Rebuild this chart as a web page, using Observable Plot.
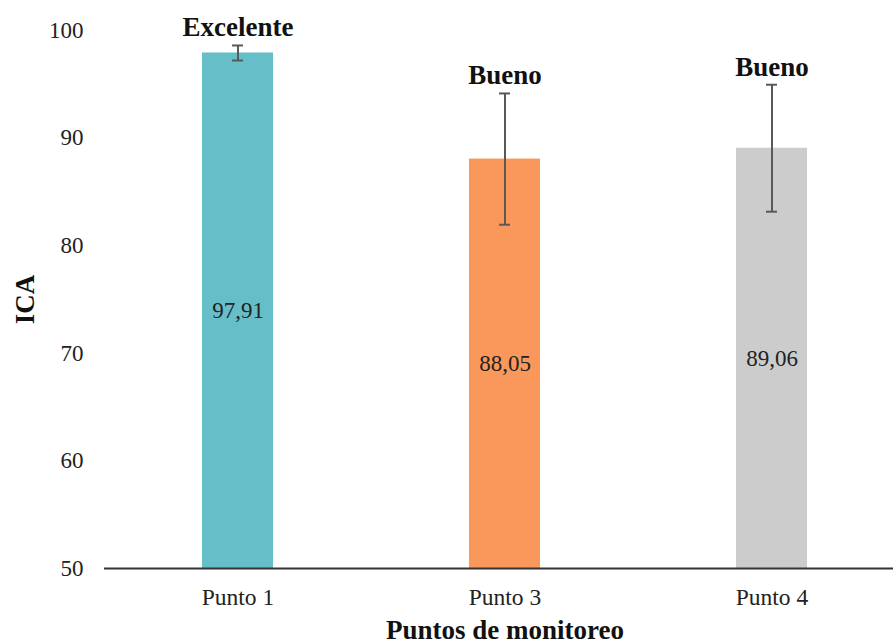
<!DOCTYPE html>
<html>
<head>
<meta charset="utf-8">
<script src="https://cdn.jsdelivr.net/npm/d3@7"></script>
<script src="https://cdn.jsdelivr.net/npm/@observablehq/plot@0.6"></script>
<style>
  html, body { margin: 0; padding: 0; background: #fff; overflow: hidden; }
  #chart svg { display: block; }
  #chart svg text { font-family: "Liberation Serif", "Times New Roman", serif !important; }
  #chart [aria-label="x-axis label"] text, #chart [aria-label="y-axis label"] text { font-weight: bold; fill: #111; font-size: 27px; }
</style>
</head>
<body>
<div id="chart"></div>
<script>
// Data
const categories = ["Punto 1", "Punto 3", "Punto 4"];
const values = [97.91, 88.05, 89.06];
const errors = [0.7, 6.1, 5.9];
const quality = ["Excelente", "Bueno", "Bueno"];
const valueLabels = ["97,91", "88,05", "89,06"];
const colors = ["#66BEC9", "#F9985A", "#CDCCCD"];
const yTicks = [50, 60, 70, 80, 90, 100];
const yDomain = [50, 100];

const rows = categories.map((c, i) => ({
  cat: c, value: values[i], err: errors[i], quality: quality[i], label: valueLabels[i]
}));

const font = "Liberation Serif, Times New Roman, serif";

const chart = Plot.plot({
  width: 893,
  height: 644,
  marginLeft: 104,
  marginRight: -12,
  marginTop: 30,
  marginBottom: 76,
  style: { fontFamily: font, fontSize: "23px", color: "#222", background: "#fff", overflow: "visible" },
  x: { domain: categories, paddingInner: 0.734, paddingOuter: 0.367 },
  y: { domain: yDomain },
  color: { domain: categories, range: colors },
  marks: [
    Plot.barY(rows, { x: "cat", y1: yDomain[0], y2: "value", fill: "cat" }),
    Plot.ruleX(rows, { x: "cat", y1: d => d.value - d.err, y2: d => d.value + d.err, stroke: "#595959", strokeWidth: 2 }),
    Plot.tickY(rows, { x: "cat", y: d => d.value + d.err, stroke: "#595959", strokeWidth: 2, insetLeft: 30, insetRight: 30 }),
    Plot.tickY(rows, { x: "cat", y: d => d.value - d.err, stroke: "#595959", strokeWidth: 2, insetLeft: 30, insetRight: 30 }),
    Plot.text(rows, { x: "cat", y: d => (yDomain[0] + d.value) / 2, text: "label", fontSize: 23, fill: "#222" }),
    Plot.text(rows, { x: "cat", y: d => d.value + d.err, text: "quality", fontSize: 27, fontWeight: "bold", fill: "#111", lineAnchor: "bottom", dy: -9 }),
    Plot.axisY({ ticks: yTicks, tickSize: 0, tickPadding: 21, label: "ICA", labelAnchor: "center", labelArrow: "none", labelOffset: 90, fontSize: 23 }),
    Plot.axisX({ tickSize: 0, tickPadding: 20, label: "Puntos de monitoreo", labelAnchor: "center", labelArrow: "none", labelOffset: 70, fontSize: 23.5 }),
    Plot.ruleX([0], { frameAnchor: "left", stroke: "#8a8a8a", strokeWidth: 1.5 }),
    Plot.ruleY([yDomain[0]], { stroke: "#333", strokeWidth: 2 })
  ]
});

document.getElementById("chart").appendChild(chart);
</script>
</body>
</html>
